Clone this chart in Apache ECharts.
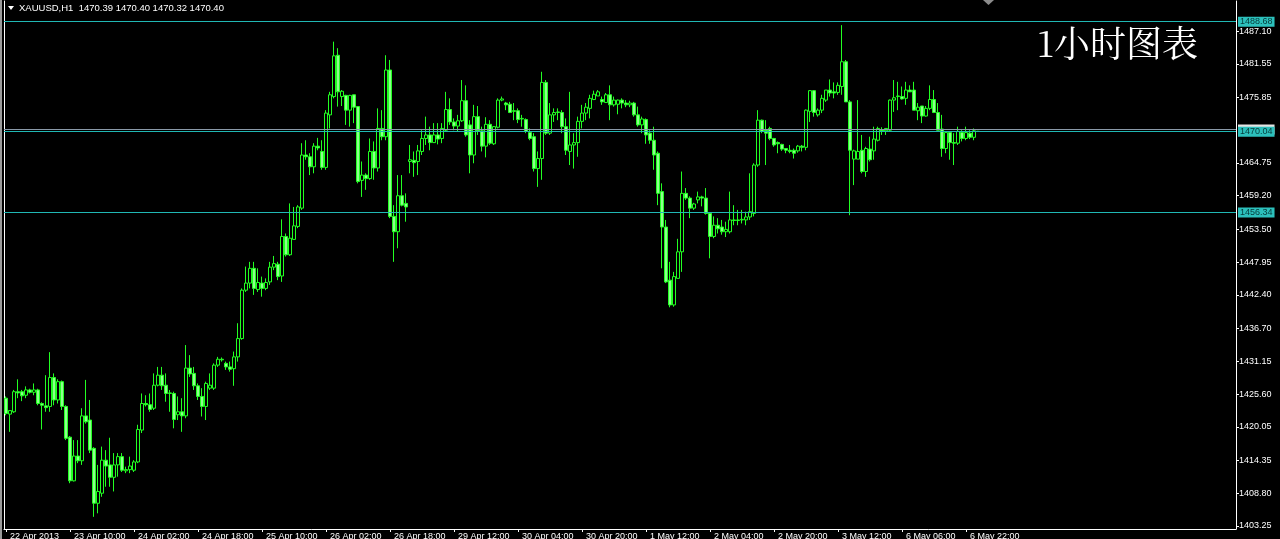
<!DOCTYPE html>
<html>
<head>
<meta charset="utf-8">
<script src="https://cdn.jsdelivr.net/npm/echarts@6/dist/echarts.min.js"></script>
<style>
html,body{margin:0;padding:0;background:#000;}
#chart{width:1280px;height:539px;}
</style>
</head>
<body>
<div id="chart"></div>
<script>
// ---- data (XAUUSD H1) ----
const tickLabels = ['22 Apr 2013','23 Apr 10:00','24 Apr 02:00','24 Apr 18:00','25 Apr 10:00','26 Apr 02:00','26 Apr 18:00','29 Apr 12:00','30 Apr 04:00','30 Apr 20:00','1 May 12:00','2 May 04:00','2 May 20:00','3 May 12:00','6 May 06:00','6 May 22:00'];
const yTickValues = [1403.25,1408.80,1414.35,1420.05,1425.60,1431.15,1436.70,1442.40,1447.95,1453.50,1459.20,1464.75,1475.85,1481.55,1487.10];
const hLines = [1488.68, 1470.04, 1456.34];
const bidPrice = 1470.40;
const headerText = 'XAUUSD,H1  1470.39 1470.40 1470.32 1470.40';
const titleText = '1小时图表';

const open = [1424.9,1422.2,1422.6,1426.0,1426.0,1425.4,1426.3,1425.9,1426.3,1424.0,1423.6,1423.5,1428.4,1424.6,1427.7,1423.5,1418.3,1410.9,1415.1,1414.3,1421.9,1421.2,1416.4,1407.1,1408.8,1414.4,1413.6,1411.5,1413.6,1415.0,1412.6,1412.8,1412.7,1414.1,1419.5,1424.0,1423.8,1423.2,1427.1,1428.8,1427.1,1425.7,1425.7,1422.1,1422.6,1421.9,1430.0,1429.1,1427.0,1425.2,1423.5,1426.6,1426.6,1430.5,1431.5,1430.8,1430.2,1429.9,1431.9,1435.0,1443.2,1444.4,1446.9,1443.3,1444.4,1443.5,1444.6,1447.1,1447.6,1445.6,1452.3,1449.2,1451.8,1454.0,1457.1,1466.1,1465.8,1464.1,1467.6,1466.7,1464.0,1472.9,1476.0,1483.0,1476.0,1476.2,1473.7,1476.3,1474.3,1461.8,1462.7,1462.1,1466.7,1463.9,1470.6,1469.2,1480.5,1455.7,1453.1,1459.2,1457.9,1465.0,1465.2,1465.0,1466.7,1468.9,1469.5,1468.2,1469.5,1468.9,1470.3,1473.8,1471.7,1471.0,1471.9,1475.3,1471.2,1466.1,1472.6,1470.2,1467.6,1471.3,1468.0,1470.8,1475.4,1474.9,1474.7,1473.6,1473.6,1472.2,1472.1,1469.9,1469.2,1463.8,1465.5,1478.4,1469.8,1472.9,1473.3,1473.3,1470.9,1466.7,1467.8,1468.2,1471.8,1473.2,1474.0,1475.5,1476.1,1475.5,1475.0,1476.3,1474.6,1474.7,1475.4,1474.9,1474.6,1474.9,1472.9,1471.2,1472.1,1469.8,1468.6,1466.4,1459.9,1453.9,1444.9,1440.7,1445.2,1449.7,1459.6,1458.8,1457.1,1458.5,1459.0,1458.8,1456.2,1452.3,1454.2,1453.9,1453.1,1453.1,1455.1,1455.0,1455.1,1455.1,1455.6,1456.2,1464.4,1472.0,1470.3,1470.6,1468.9,1468.2,1467.9,1467.2,1466.9,1466.9,1466.8,1467.6,1467.4,1473.5,1477.0,1472.9,1473.7,1475.4,1477.1,1476.8,1476.7,1477.7,1481.9,1475.1,1465.4,1465.4,1466.9,1463.3,1467.1,1466.8,1468.6,1470.4,1470.2,1470.3,1475.4,1476.0,1476.0,1475.7,1477.1,1477.1,1473.6,1474.4,1472.7,1474.0,1475.5,1473.3,1470.5,1467.2,1469.9,1468.2,1468.1,1469.9,1468.9,1469.8,1469.1,1470.39];
const high = [1425.2,1422.9,1426.3,1428.1,1426.3,1426.9,1426.5,1427.4,1426.5,1424.2,1428.8,1432.7,1429.1,1428.1,1427.9,1423.7,1418.5,1417.8,1417.8,1423.2,1428.0,1424.6,1416.6,1413.6,1416.7,1416.1,1418.2,1415.6,1415.6,1415.6,1413.3,1415.0,1414.4,1420.4,1425.7,1425.4,1425.7,1429.1,1430.2,1430.2,1429.1,1426.3,1426.0,1425.2,1424.9,1433.9,1432.2,1430.2,1427.4,1426.6,1427.7,1429.1,1430.8,1431.9,1431.8,1431.1,1431.1,1432.8,1437.6,1443.5,1447.2,1448.0,1448.0,1446.9,1445.5,1445.2,1448.0,1449.0,1448.0,1455.2,1452.8,1457.9,1457.3,1457.6,1468.1,1468.6,1466.4,1468.1,1469.0,1468.6,1473.7,1476.8,1485.3,1484.2,1477.1,1476.3,1476.3,1476.3,1474.3,1465.0,1463.0,1468.9,1468.4,1474.0,1473.7,1483.0,1482.2,1457.6,1462.7,1462.7,1459.6,1467.8,1466.7,1467.8,1470.3,1472.6,1470.9,1471.5,1471.5,1471.5,1476.8,1475.7,1472.3,1472.9,1478.8,1477.9,1472.0,1474.6,1474.4,1470.9,1472.5,1472.0,1471.0,1475.7,1476.0,1475.1,1475.1,1474.9,1474.0,1472.9,1472.3,1470.6,1469.8,1466.7,1480.2,1478.8,1474.9,1474.0,1474.0,1473.7,1472.3,1476.8,1469.8,1472.6,1474.6,1474.9,1476.3,1477.0,1477.1,1476.0,1476.6,1477.9,1476.0,1475.5,1475.7,1475.4,1475.3,1475.1,1474.3,1472.6,1472.3,1470.3,1470.9,1466.7,1461.3,1455.1,1448.0,1446.3,1451.9,1463.3,1460.5,1459.1,1458.0,1459.9,1459.2,1460.5,1456.4,1455.7,1455.4,1455.1,1454.8,1459.9,1457.6,1456.8,1456.8,1456.5,1463.0,1464.7,1473.7,1472.1,1472.0,1470.9,1469.0,1468.4,1468.0,1467.2,1467.8,1467.2,1467.8,1467.8,1473.8,1477.1,1477.1,1474.0,1476.3,1477.1,1478.9,1478.4,1478.4,1488.1,1482.2,1475.4,1467.0,1475.4,1469.5,1467.5,1469.2,1470.9,1470.9,1470.8,1470.6,1475.5,1478.8,1478.5,1477.7,1478.5,1477.9,1478.5,1474.9,1474.4,1474.4,1477.9,1477.1,1474.9,1472.9,1470.1,1470.1,1469.8,1470.9,1470.3,1470.9,1470.3,1470.6,1470.40];
const low = [1422.0,1419.2,1422.4,1424.9,1424.4,1424.9,1425.7,1425.4,1423.7,1419.6,1422.6,1422.6,1423.7,1424.0,1422.9,1417.8,1410.5,1410.8,1413.9,1413.6,1420.6,1415.6,1404.8,1405.4,1408.2,1409.9,1409.9,1409.1,1411.6,1412.4,1412.2,1412.2,1412.4,1413.9,1419.0,1423.5,1422.6,1422.9,1426.9,1426.3,1424.3,1422.6,1419.8,1421.2,1419.2,1421.5,1428.5,1426.3,1424.6,1421.8,1421.2,1426.3,1426.3,1430.2,1431.1,1429.7,1429.4,1427.0,1431.1,1434.8,1442.9,1443.5,1442.4,1442.9,1442.1,1443.2,1444.1,1446.6,1444.9,1444.6,1448.9,1449.0,1451.8,1453.7,1456.8,1465.3,1462.7,1463.0,1466.9,1463.6,1463.6,1470.6,1475.7,1474.3,1474.4,1471.2,1470.9,1471.5,1461.3,1459.0,1460.2,1461.9,1461.9,1463.3,1468.6,1468.6,1455.4,1448.0,1450.3,1457.4,1454.8,1463.0,1462.4,1462.7,1466.1,1467.8,1466.9,1468.2,1467.9,1468.1,1470.1,1471.2,1470.3,1470.1,1471.7,1469.2,1463.0,1464.7,1469.5,1466.7,1465.7,1467.8,1467.8,1470.6,1475.2,1473.7,1473.2,1472.0,1471.5,1470.9,1469.8,1468.6,1463.3,1460.7,1461.9,1469.5,1469.5,1471.7,1472.0,1469.8,1466.1,1464.4,1463.8,1465.8,1470.6,1472.0,1472.3,1475.4,1476.1,1474.6,1474.9,1472.0,1474.3,1473.0,1474.0,1474.2,1474.2,1472.6,1470.9,1469.8,1468.0,1468.0,1463.6,1457.6,1446.9,1444.4,1440.3,1440.4,1445.2,1446.3,1458.5,1455.4,1456.8,1457.9,1457.4,1456.0,1448.6,1452.0,1452.8,1452.6,1452.2,1452.8,1454.2,1454.2,1454.5,1454.2,1455.1,1455.7,1464.1,1469.8,1464.4,1468.6,1467.5,1466.4,1466.8,1466.4,1466.4,1465.5,1466.5,1466.7,1466.9,1471.7,1472.6,1472.6,1473.2,1475.1,1476.0,1475.7,1476.3,1476.3,1475.1,1455.9,1461.0,1465.4,1463.0,1462.4,1465.0,1465.3,1468.4,1469.5,1469.5,1470.1,1473.4,1473.7,1475.5,1474.6,1476.8,1473.7,1472.0,1471.5,1472.6,1473.7,1473.2,1470.3,1465.8,1466.4,1465.3,1464.4,1467.8,1468.4,1468.6,1468.8,1468.6,1470.32];
const close = [1422.3,1422.8,1426.0,1425.8,1425.3,1426.3,1425.9,1426.3,1424.0,1423.7,1423.3,1428.4,1424.6,1427.7,1423.5,1418.1,1410.9,1415.1,1414.3,1421.9,1420.9,1416.1,1407.1,1409.1,1414.4,1413.4,1411.5,1413.6,1415.0,1412.7,1412.8,1413.4,1414.1,1419.6,1424.0,1423.8,1423.0,1427.1,1428.8,1427.0,1425.7,1425.8,1421.3,1422.6,1421.9,1430.0,1429.0,1427.0,1425.2,1423.5,1427.4,1427.1,1430.5,1431.5,1431.4,1430.2,1429.8,1431.9,1435.0,1443.2,1444.4,1446.9,1443.5,1444.5,1443.5,1444.5,1447.1,1447.7,1445.5,1452.3,1449.2,1452.0,1454.1,1457.3,1466.1,1465.8,1464.1,1467.6,1467.3,1464.0,1473.2,1476.3,1482.9,1476.8,1476.9,1473.7,1476.2,1474.2,1461.6,1462.7,1462.1,1466.7,1463.9,1470.6,1469.2,1480.5,1455.7,1453.1,1459.2,1457.6,1457.3,1465.3,1464.8,1466.8,1468.9,1469.5,1468.2,1469.5,1468.8,1470.6,1473.8,1471.7,1471.0,1471.9,1475.3,1469.5,1466.1,1472.6,1470.2,1467.6,1471.3,1468.1,1470.9,1475.4,1475.6,1474.6,1473.3,1473.5,1472.1,1472.3,1470.1,1468.9,1463.8,1465.5,1478.4,1469.8,1472.9,1473.3,1473.4,1470.9,1466.9,1467.8,1468.2,1471.8,1473.2,1474.2,1475.7,1476.4,1476.8,1475.1,1476.3,1474.6,1475.4,1475.4,1474.9,1474.6,1474.9,1472.9,1471.2,1472.2,1469.5,1468.6,1466.1,1459.6,1453.9,1444.6,1440.7,1445.5,1449.7,1459.6,1458.8,1457.1,1457.8,1459.0,1458.8,1456.2,1452.3,1454.2,1453.6,1453.1,1453.5,1455.1,1455.0,1455.1,1455.2,1455.6,1456.5,1464.4,1472.0,1470.1,1469.8,1468.9,1467.8,1468.0,1467.1,1466.9,1466.7,1466.4,1467.6,1467.4,1473.7,1477.0,1473.3,1473.7,1475.7,1477.1,1476.6,1476.6,1477.9,1481.9,1475.1,1466.9,1466.8,1466.7,1463.3,1467.2,1465.3,1468.8,1470.6,1470.2,1470.6,1475.4,1475.8,1476.1,1475.6,1477.1,1476.8,1473.7,1474.2,1472.7,1474.0,1475.5,1473.3,1470.3,1467.2,1469.9,1468.2,1468.1,1470.1,1468.9,1469.9,1469.1,1470.2,1470.40];

// ---- layout constants ----
const slotCount = 308;      // visible bar slots across the chart window
const tickEvery = 16;       // bars between time labels
const yMin = 1402.74, yMax = 1492.19;

const categories = Array.from({length: slotCount}, (_, i) =>
  (i % tickEvery === 0 && tickLabels[i / tickEvery] !== undefined) ? tickLabels[i / tickEvery] : '');
const candleData = open.map((o, i) => [o, close[i], low[i], high[i]]);
const showTick = (i) => i % tickEvery === 0 && (i / tickEvery) < tickLabels.length;

const lineColor = '#20b8b4';
const axisFont = '"Liberation Sans", Arial, sans-serif';
const priceLabel = (bg, fg, txt) => ({show: true, position: 'end', distance: 2, formatter: txt,
  color: fg, backgroundColor: bg, fontSize: 9, fontFamily: axisFont, padding: [1, 2, 0, 2]});

const chart = echarts.init(document.getElementById('chart'), null, {renderer: 'canvas'});
chart.setOption({
  backgroundColor: '#000',
  animation: false,
  grid: {left: 4, right: 44, top: 1, bottom: 10, containLabel: false, outerBoundsMode: 'none'},
  xAxis: {
    type: 'category',
    data: categories,
    boundaryGap: true,
    axisLine: {show: true, lineStyle: {color: '#ffffff', width: 1}},
    axisTick: {show: true, alignWithLabel: true, interval: showTick, length: 3, lineStyle: {color: '#ffffff'}},
    axisLabel: {show: true, interval: showTick, align: 'left', margin: 3, padding: [0, 0, 0, 4],
      color: '#ffffff', fontSize: 9, fontFamily: axisFont},
    splitLine: {show: false}
  },
  yAxis: [{
    type: 'value',
    position: 'right',
    min: yMin, max: yMax,
    axisLine: {show: true, lineStyle: {color: '#ffffff', width: 1}},
    axisTick: {show: true, customValues: yTickValues, length: 3, lineStyle: {color: '#ffffff'}},
    axisLabel: {show: true, customValues: yTickValues, formatter: v => v.toFixed(2),
      color: '#ffffff', fontSize: 9, fontFamily: axisFont, margin: 3},
    splitLine: {show: false}
  }, {
    type: 'value',
    position: 'left',
    min: yMin, max: yMax,
    axisLine: {show: true, lineStyle: {color: '#ffffff', width: 1}},
    axisTick: {show: false},
    axisLabel: {show: false},
    splitLine: {show: false}
  }],
  series: [{
    type: 'candlestick',
    data: candleData,
    barWidth: 3,
    clip: false,
    silent: true,
    itemStyle: {
      color: '#000000',
      color0: '#8dff8d',
      borderColor: '#22ff22',
      borderColor0: '#22ff22',
      borderWidth: 1
    },
    markLine: {
      silent: true,
      symbol: ['none', 'none'],
      animation: false,
      lineStyle: {color: lineColor, type: 'solid', width: 1},
      data: [
        {yAxis: bidPrice, lineStyle: {color: '#8a99a8', type: 'solid', width: 1},
          label: priceLabel('#e4e4e4', '#e4e4e4', bidPrice.toFixed(2))}
      ].concat(hLines.map(v => ({
        yAxis: v,
        lineStyle: {color: lineColor, type: 'solid', width: 1},
        label: priceLabel('#2cc0bc', '#053a3a', v.toFixed(2))
      })))
    }
  }],
  graphic: [
    {type: 'rect', left: 0, top: 0, shape: {width: 2, height: 539}, style: {fill: '#9a9a9a'}, silent: true},
    {type: 'polygon', shape: {points: [[8, 6], [14, 6], [11, 10]]}, style: {fill: '#ffffff'}, silent: true},
    {type: 'text', left: 19, top: 3, style: {text: headerText, fill: '#ffffff', font: '9.5px ' + axisFont}, silent: true},
    {type: 'polygon', shape: {points: [[983, 0], [994, 0], [988.5, 5]]}, style: {fill: '#8c8c8c'}, silent: true},
    {type: 'text', left: 1037, top: 25, style: {text: titleText, fill: '#ffffff',
      font: '36px "Noto Serif CJK SC", "DejaVu Serif", serif'}, silent: true}
  ]
});
</script>
</body>
</html>
